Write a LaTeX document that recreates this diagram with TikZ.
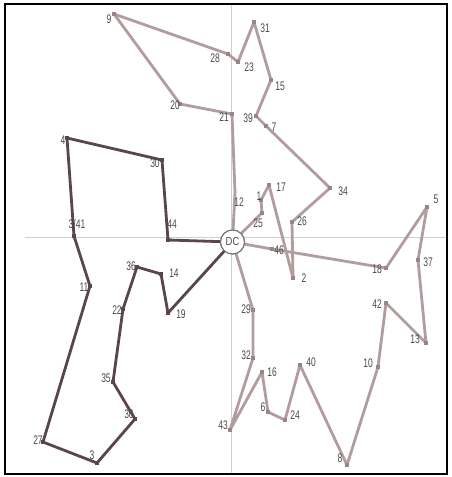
\documentclass[tikz,border=0pt]{standalone}
\usepackage{fontspec}
\setmainfont{Liberation Sans}
\newfontfamily\narrowfont[FakeStretch=0.68]{Liberation Sans}
\newfontfamily\dcfont[FakeStretch=0.82]{Liberation Sans}
\definecolor{routelight}{HTML}{B39C9E}
\definecolor{routedark}{HTML}{5A4646}
\definecolor{labelgray}{HTML}{4A4A4A}
\definecolor{axisgray}{HTML}{CFCFCF}
\begin{document}
\begin{tikzpicture}[x=1pt,y=-1pt,
  lt/.style={draw=routelight, line width=2.8pt, line join=round, line cap=round},
  dk/.style={draw=routedark, line width=2.8pt, line join=round, line cap=round},
  lbl/.style={font=\narrowfont\fontsize{12.5}{13}\selectfont, text=labelgray, inner sep=0pt},
  mkl/.style={fill=routelight!85!black, minimum size=3.5pt, inner sep=0pt, rectangle},
  mkd/.style={fill=routedark, minimum size=3.5pt, inner sep=0pt, rectangle},
  dcnode/.style={circle, draw=gray!90!black, line width=1.1pt, fill=white, minimum size=24pt, inner sep=0pt, font=\dcfont\fontsize{11.5}{12}\selectfont, text=labelgray}]
\useasboundingbox (0,0) rectangle (451,477);
\fill[white] (0,0) rectangle (451,477);
% axes
\draw[axisgray, line width=0.7pt] (231,4) -- (231,474);
\draw[axisgray, line width=0.7pt] (25,237) -- (447,237);
% DC
\node[dcnode] (dc) at (232.5,242) {DC};
% light route points
\coordinate (p12) at (235,192);
\coordinate (p21) at (232,114);
\coordinate (p20) at (180,104);
\coordinate (p9) at (114,14);
\coordinate (p28) at (228,54);
\coordinate (p23) at (238,62);
\coordinate (p31) at (254,22);
\coordinate (p15) at (271,80);
\coordinate (p39) at (256,116);
\coordinate (p7) at (266,126);
\coordinate (p34) at (330,188);
\coordinate (p26) at (292,222);
\coordinate (p2) at (293,278);
\coordinate (p17) at (269,185);
\coordinate (p1) at (261,200);
\coordinate (p25) at (262,213);
\coordinate (p46) at (272,249);
\coordinate (p18) at (386,268);
\coordinate (p5) at (427,207);
\coordinate (p37) at (418,260);
\coordinate (p13) at (426,343);
\coordinate (p42) at (386,303);
\coordinate (p10) at (378,367);
\coordinate (p8) at (347,465);
\coordinate (p40) at (300,365);
\coordinate (p24) at (285,420);
\coordinate (p6) at (268,412);
\coordinate (p16) at (262,372);
\coordinate (p43) at (230,430);
\coordinate (p32) at (253,358);
\coordinate (p29) at (253,310);
% dark route points
\coordinate (p44) at (168,240);
\coordinate (p30a) at (162,160);
\coordinate (p4) at (67,138);
\coordinate (p341) at (74,236);
\coordinate (p11) at (90,286);
\coordinate (p27) at (43,442);
\coordinate (p3) at (97,463);
\coordinate (p30b) at (135,419);
\coordinate (p35) at (113,382);
\coordinate (p22) at (123,309);
\coordinate (p36) at (137,267);
\coordinate (p14) at (161,274);
\coordinate (p19) at (168,313);
% routes
\draw[lt] (dc) -- (p12) -- (p21) -- (p20) -- (p9) -- (p28) -- (p23) -- (p31) -- (p15) -- (p39) -- (p7) -- (p34) -- (p26) -- (p2) -- (p17) -- (p1) -- (p25) -- (dc);
\draw[lt] (dc) -- (p46) -- (p18) -- (p5) -- (p37) -- (p13) -- (p42) -- (p10) -- (p8) -- (p40) -- (p24) -- (p6) -- (p16) -- (p43) -- (p32) -- (p29) -- (dc);
\draw[dk] (dc) -- (p44) -- (p30a) -- (p4) -- (p341) -- (p11) -- (p27) -- (p3) -- (p30b) -- (p35) -- (p22) -- (p36) -- (p14) -- (p19) -- (dc);
% markers
\foreach \p in {p21,p20,p9,p28,p23,p31,p15,p39,p7,p34,p26,p2,p17,p1,p25,p46,p18,p5,p37,p13,p42,p10,p8,p40,p24,p6,p16,p43,p32,p29}
  \node[mkl] at (\p) {};
\foreach \p in {p44,p30a,p4,p341,p11,p27,p3,p30b,p35,p22,p36,p14,p19}
  \node[mkd] at (\p) {};
\node[dcnode] at (dc) {DC};
% labels
\node[lbl] (l9) at (109,19) {9};
\node[lbl] (l28) at (215,58) {28};
\node[lbl] (l23) at (249,67) {23};
\node[lbl] (l31) at (265,28) {31};
\node[lbl] (l15) at (280,86) {15};
\node[lbl] (l20) at (175,105) {20};
\node[lbl] (l21) at (224,117) {21};
\node[lbl] (l39) at (248,118) {39};
\node[lbl] (l7) at (274,127) {7};
\node[lbl] (l34) at (343,191) {34};
\node[lbl] (l17) at (281,187) {17};
\node[lbl] (l1) at (259,196) {1};
\node[lbl] (l12) at (239,202) {12};
\node[lbl] (l25) at (258,223) {25};
\node[lbl] (l26) at (302,221) {26};
\node[lbl] (l46) at (279,250) {46};
\node[lbl] (l2) at (304,278) {2};
\node[lbl] (l5) at (436,199) {5};
\node[lbl] (l37) at (428,262) {37};
\node[lbl] (l18) at (377,269) {18};
\node[lbl] (l42) at (377,304) {42};
\node[lbl] (l13) at (415,339) {13};
\node[lbl] (l10) at (368,363) {10};
\node[lbl] (l40) at (311,362) {40};
\node[lbl] (l16) at (272,372) {16};
\node[lbl] (l6) at (263,407) {6};
\node[lbl] (l24) at (295,415) {24};
\node[lbl] (l43) at (223,425) {43};
\node[lbl] (l32) at (246,355) {32};
\node[lbl] (l29) at (246,309) {29};
\node[lbl] (l8) at (340,458) {8};
\node[lbl] (l4) at (63,140) {4};
\node[lbl] (l30a) at (155,163) {30};
\node[lbl] (l44) at (172,224) {44};
\node[lbl] (l341) at (77,224) {3/41};
\node[lbl] (l11) at (84,287) {11};
\node[lbl] (l36) at (131,266) {36};
\node[lbl] (l14) at (174,273) {14};
\node[lbl] (l22) at (117,310) {22};
\node[lbl] (l19) at (181,314) {19};
\node[lbl] (l35) at (106,378) {35};
\node[lbl] (l30b) at (129,414) {30};
\node[lbl] (l27) at (38,440) {27};
\node[lbl] (l3) at (92,455) {3};
% frame
\draw[black, line width=2pt] (5,4) rectangle (447,474);
\end{tikzpicture}
\end{document}
